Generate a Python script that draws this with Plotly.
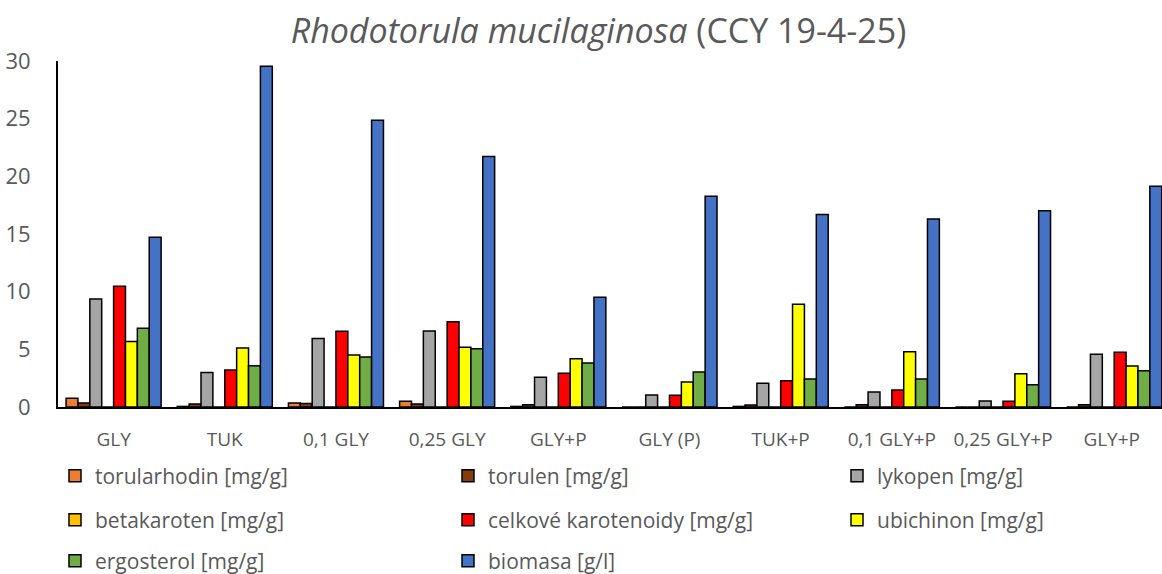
import plotly.graph_objects as go

categories = ["GLY", "TUK", "0,1 GLY", "0,25 GLY", "GLY+P", "GLY (P)", "TUK+P", "0,1 GLY+P", "0,25 GLY+P", "GLY+P "]

torularhodin = [0.75, 0.05, 0.35, 0.49, 0.05, 0.0, 0.05, 0.0, 0.0, 0.0]
torulen = [0.35, 0.26, 0.30, 0.26, 0.20, 0.0, 0.17, 0.20, 0.0, 0.20]
lykopen = [9.36, 3.0, 5.95, 6.59, 2.57, 1.04, 2.05, 1.30, 0.52, 4.57]
betakaroten = [0, 0, 0, 0, 0, 0, 0, 0, 0, 0]
celkove = [10.46, 3.2, 6.56, 7.4, 2.92, 1.01, 2.28, 1.47, 0.49, 4.74]
ubichinon = [5.69, 5.12, 4.5, 5.17, 4.19, 2.17, 8.9, 4.8, 2.89, 3.55]
ergosterol = [6.82, 3.58, 4.34, 5.06, 3.82, 3.03, 2.43, 2.43, 1.94, 3.15]
biomasa = [14.71, 29.55, 24.86, 21.73, 9.51, 18.27, 16.7, 16.3, 17.02, 19.13]

names = ["torularhodin [mg/g]", "torulen [mg/g]", "lykopen [mg/g]",
         "betakaroten [mg/g]", "celkové karotenoidy [mg/g]", "ubichinon [mg/g]",
         "ergosterol [mg/g]", "biomasa [g/l]"]
values = [torularhodin, torulen, lykopen, betakaroten, celkove, ubichinon, ergosterol, biomasa]
colors = ["#ED7D31", "#843C0C", "#A5A5A5", "#FFC000", "#FF0000", "#FFFF00", "#70AD47", "#4472C4"]

# plot area in pixels (for placing legend entries)
L, T, W, H = 58, 61, 1104, 346
col_text_px = [97, 490, 879]
row_center_px = [476, 520, 561]

fig = go.Figure()
font_family = "Open Sans, Lato, sans-serif"
gray = "#595959"
layout_legends = {}
for i, (name, vals, color) in enumerate(zip(names, values, colors)):
    key = "legend" if i == 0 else f"legend{i+1}"
    fig.add_trace(go.Bar(
        x=categories, y=vals, name=name,
        marker=dict(color=color, line=dict(color="black", width=1.5)),
        legend=key,
    ))
    r, c = divmod(i, 3)
    left_px = col_text_px[c] - 42
    layout_legends[key] = dict(
        orientation="h", xanchor="left", yanchor="middle",
        x=(left_px - L) / W, y=(T + H - row_center_px[r]) / H,
        font=dict(family=font_family, size=21, color=gray),
        bgcolor="rgba(0,0,0,0)", itemclick=False, itemdoubleclick=False,
    )

fig.update_layout(
    width=1162, height=574,
    margin=dict(l=L, r=1162 - L - W, t=T, b=574 - T - H, autoexpand=False),
    paper_bgcolor="white", plot_bgcolor="white",
    barmode="group", bargap=0.145, bargroupgap=0,
    title=dict(
        text="<i>Rhodotorula mucilaginosa</i> (CCY 19-4-25)",
        x=0.515, xanchor="center", y=0.945, yanchor="middle",
        font=dict(family=font_family, size=34, color=gray),
    ),
    xaxis=dict(
        range=[-0.5, 9.43], showgrid=False, showline=True, linecolor="black", linewidth=2,
        ticks="", tickfont=dict(family=font_family, size=19, color=gray),
        ticklabelstandoff=14, automargin=False,
    ),
    yaxis=dict(
        range=[0, 30], dtick=5, showgrid=False, showline=True, linecolor="black", linewidth=2,
        ticks="", tickfont=dict(family=font_family, size=22, color=gray),
        ticklabelstandoff=21, zeroline=False, automargin=False,
    ),
    showlegend=True,
    **layout_legends,
)

fig.write_html("out.html", config={"displayModeBar": False},
               post_script="document.body.style.margin='0';")
